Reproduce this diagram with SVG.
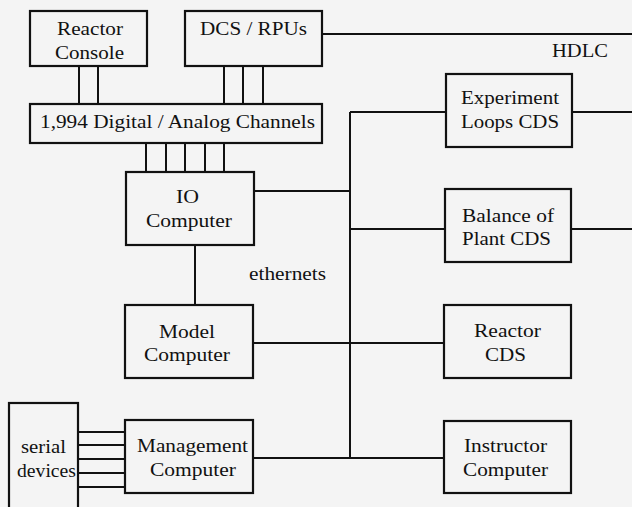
<svg xmlns="http://www.w3.org/2000/svg" width="632" height="507" viewBox="0 0 632 507">
<style>
.b{fill:none;stroke:#111;stroke-width:2.2}
.c{fill:none;stroke:#111;stroke-width:2}
text{font-family:"Liberation Serif","Times New Roman",serif;font-size:19px;fill:#111;text-anchor:middle}
</style>
<rect width="632" height="507" fill="#f4f4f4"/>
<g id="connectors">
<path class="c" d="M79,66V104M98,66V104"/>
<path class="c" d="M224,66V104M243,66V104M263,66V104"/>
<path class="c" d="M146,143V172M166,143V172M185,143V172M205,143V172M224,143V172"/>
<path class="c" d="M322,34H632"/>
<path class="c" d="M350,112V458"/>
<path class="c" d="M350,112H446M572,112H632"/>
<path class="c" d="M254,191H350"/>
<path class="c" d="M350,229H445M571,229H632"/>
<path class="c" d="M195,245V305"/>
<path class="c" d="M253,343H444"/>
<path class="c" d="M253,458H444"/>
<path class="c" d="M78,432H125M78,445H125M78,459H125M78,473H125M78,487H125"/>
</g>
<g id="reactor-console"><rect class="b" x="30" y="11" width="117" height="55"/><text x="90" y="35" textLength="66" lengthAdjust="spacingAndGlyphs">Reactor</text><text x="89.5" y="59" textLength="69" lengthAdjust="spacingAndGlyphs">Console</text></g>
<g id="dcs-rpus"><rect class="b" x="185" y="11" width="137" height="55"/><text x="253.5" y="35" textLength="107" lengthAdjust="spacingAndGlyphs">DCS / RPUs</text></g>
<g id="hdlc-label"><text x="580" y="57" textLength="56" lengthAdjust="spacingAndGlyphs">HDLC</text></g>
<g id="channels"><rect class="b" x="30" y="104" width="292" height="39"/><text x="177.5" y="128" textLength="275" lengthAdjust="spacingAndGlyphs">1,994 Digital / Analog Channels</text></g>
<g id="experiment-loops"><rect class="b" x="446" y="74" width="126" height="73"/><text x="510" y="104" textLength="98" lengthAdjust="spacingAndGlyphs">Experiment</text><text x="510" y="128" textLength="98" lengthAdjust="spacingAndGlyphs">Loops CDS</text></g>
<g id="io-computer"><rect class="b" x="126" y="172" width="128" height="73"/><text x="187.5" y="203" textLength="23" lengthAdjust="spacingAndGlyphs">IO</text><text x="189" y="227" textLength="86" lengthAdjust="spacingAndGlyphs">Computer</text></g>
<g id="balance-of-plant"><rect class="b" x="445" y="189" width="126" height="73"/><text x="508" y="222" textLength="92" lengthAdjust="spacingAndGlyphs">Balance of</text><text x="506.5" y="245" textLength="89" lengthAdjust="spacingAndGlyphs">Plant CDS</text></g>
<g id="ethernets-label"><text x="287.5" y="280" textLength="77" lengthAdjust="spacingAndGlyphs">ethernets</text></g>
<g id="model-computer"><rect class="b" x="125" y="305" width="128" height="73"/><text x="187" y="338" textLength="56" lengthAdjust="spacingAndGlyphs">Model</text><text x="187" y="361" textLength="86" lengthAdjust="spacingAndGlyphs">Computer</text></g>
<g id="reactor-cds"><rect class="b" x="444" y="305" width="127" height="73"/><text x="507.5" y="337" textLength="67" lengthAdjust="spacingAndGlyphs">Reactor</text><text x="505.5" y="361" textLength="41" lengthAdjust="spacingAndGlyphs">CDS</text></g>
<g id="serial-devices"><rect class="b" x="9" y="403" width="69" height="110"/><text x="43.5" y="453" textLength="45" lengthAdjust="spacingAndGlyphs">serial</text><text x="46.5" y="477" textLength="59" lengthAdjust="spacingAndGlyphs">devices</text></g>
<g id="management-computer"><rect class="b" x="125" y="420" width="128" height="73"/><text x="192.5" y="452" textLength="111" lengthAdjust="spacingAndGlyphs">Management</text><text x="193" y="476" textLength="86" lengthAdjust="spacingAndGlyphs">Computer</text></g>
<g id="instructor-computer"><rect class="b" x="444" y="421" width="127" height="72"/><text x="505.5" y="452" textLength="83" lengthAdjust="spacingAndGlyphs">Instructor</text><text x="505.5" y="476" textLength="85" lengthAdjust="spacingAndGlyphs">Computer</text></g>
</svg>
